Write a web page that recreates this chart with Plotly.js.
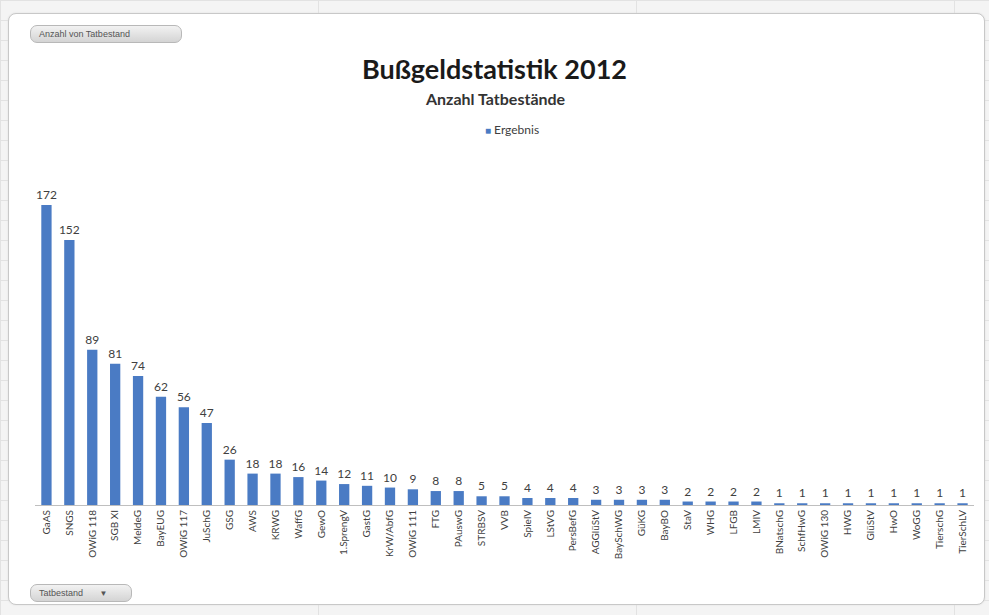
<!DOCTYPE html>
<html><head><meta charset="utf-8">
<script src="https://cdn.plot.ly/plotly-3.0.1.min.js"></script>
<style>
html,body{margin:0;padding:0;width:989px;height:615px;overflow:hidden;background:#f4f4f4;
background-image:linear-gradient(#e2e2e2 1px,transparent 1px),linear-gradient(90deg,#e2e2e2 1px,transparent 1px);
background-size:318px 20px;background-position:0 0;}
#frame{position:absolute;left:8px;top:13px;width:975px;height:590px;background:#fff;border:1px solid #c8c8c8;border-radius:8px;box-shadow:0 0 2px #ddd;}
#chart{position:absolute;left:0;top:0;width:989px;height:615px;}
.btn{position:absolute;font-family:'Liberation Sans',Arial,sans-serif;font-size:9px;color:#555;
background:linear-gradient(#f2f2f2,#d4d4d4);border:1px solid #b8b8b8;border-radius:7px;padding:2px 8px;height:12px;line-height:12px;}
</style></head><body>
<div id="frame"></div>
<div id="chart"></div>
<div class="btn" style="left:30px;top:25px;width:134px;">Anzahl von Tatbestand</div>
<div class="btn" style="left:30px;top:584px;width:84px;">Tatbestand <span style="margin-left:14px;font-size:8px;">&#9660;</span></div>
<script>
const categories = ["GaAS","SNGS","OWiG 118","SGB XI","MeldeG","BayEUG","OWiG 117","JuSchG","GSG","AWS","KRWG","WaffG","GewO","1.SprengV","GastG","KrW/AbfG","OWiG 111","FTG","PAuswG","STRBSV","VVB","SpielV","LStVG","PersBefG","AGGlüStV","BaySchWG","GüKG","BayBO","StaV","WHG","LFGB","LMIV","BNatschG","SchfHwG","OWiG 130","HWG","GlüStV","HwO","WoGG","TierschG","TierSchLV"];
const values = [172,152,89,81,74,62,56,47,26,18,18,16,14,12,11,10,9,8,8,5,5,4,4,4,3,3,3,3,2,2,2,2,1,1,1,1,1,1,1,1,1];
const seriesName = "Ergebnis";
const titleText = "Bußgeldstatistik 2012";
const subtitleText = "Anzahl Tatbestände";

const font = "Lato, 'Open Sans', sans-serif";
const barColor = '#4a7bc4';
const trace = {
  type:'bar', x:categories, y:values, name:seriesName,
  marker:{color:barColor}, width:0.45,
  text:values.map(String), textposition:'outside', cliponaxis:false, constraintext:'none',
  textfont:{family:font,size:12,color:'#404040'},
  showlegend:false
};
const layout = {
  width:989, height:615,
  paper_bgcolor:'rgba(0,0,0,0)', plot_bgcolor:'rgba(0,0,0,0)',
  margin:{l:35,r:15,t:190,b:110},
  title:{text:'<b>'+titleText+'</b>', font:{family:font,size:27,color:'#1a1a1a'}, x:0.5, xanchor:'center', xref:'container', y:1-70/615, yanchor:'middle', yref:'container'},
  annotations:[
    {text:'<b>'+subtitleText+'</b>', xref:'paper', yref:'paper', x:0.49, y:(505-99)/315, xanchor:'center', yanchor:'middle', showarrow:false, font:{family:font,size:16,color:'#333'}},
    {text:'<span style="color:'+barColor+';font-size:10px">■</span> '+seriesName, xref:'paper', yref:'paper', x:(512-35)/939, y:(505-129)/315, xanchor:'center', yanchor:'middle', showarrow:false, font:{family:font,size:12,color:'#404040'}}
  ],
  showlegend:false,
  xaxis:{type:'category', tickangle:-90, tickfont:{family:font,size:10,color:'#404040'}, showline:true, linecolor:'#bfbfbf', linewidth:1, ticks:'', showgrid:false, range:[-0.5,40.5], fixedrange:true},
  yaxis:{range:[0,180.6], visible:false, showgrid:false, zeroline:false, fixedrange:true},
  bargap:0.55
};
Plotly.newPlot('chart',[trace],layout,{displayModeBar:false,staticPlot:true});
</script>
</body></html>
